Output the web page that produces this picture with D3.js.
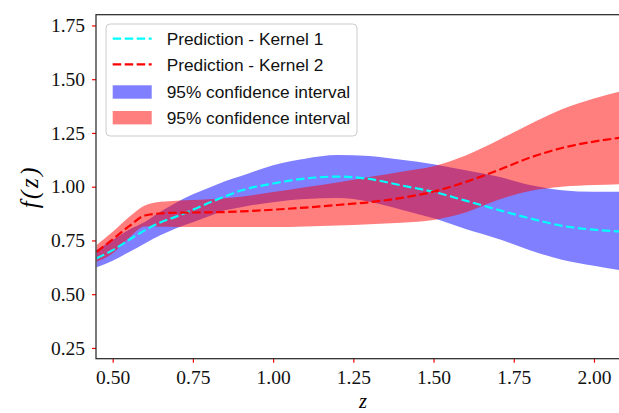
<!DOCTYPE html>
<html>
<head>
<meta charset="utf-8">
<script src="https://cdn.jsdelivr.net/npm/d3@7"></script>
<style>
  html, body { margin: 0; padding: 0; background: #fff; }
  svg { display: block; }
</style>
</head>
<body>
<svg id="chart"></svg>
<script>
const zValues = [0.45, 0.5, 0.55, 0.6, 0.65, 0.7, 0.75, 0.8, 0.85, 0.9, 1.0, 1.1, 1.2, 1.3, 1.4, 1.5, 1.6, 1.7, 1.8, 1.9, 2.0, 2.08];

const kernel1Mean  = [0.667, 0.705, 0.752, 0.797, 0.835, 0.862, 0.893, 0.925, 0.955, 0.982, 1.015, 1.038, 1.047, 1.036, 1.006, 0.976, 0.935, 0.893, 0.853, 0.818, 0.800, 0.792];
const kernel1Upper = [0.707, 0.752, 0.800, 0.836, 0.885, 0.928, 0.965, 0.995, 1.025, 1.050, 1.100, 1.130, 1.147, 1.143, 1.125, 1.105, 1.077, 1.047, 1.008, 0.984, 0.977, 0.977];
const kernel1Lower = [0.625, 0.656, 0.695, 0.736, 0.775, 0.808, 0.835, 0.862, 0.890, 0.905, 0.928, 0.943, 0.947, 0.930, 0.893, 0.853, 0.803, 0.758, 0.705, 0.660, 0.632, 0.612];

const kernel2Mean  = [0.697, 0.755, 0.815, 0.866, 0.876, 0.879, 0.880, 0.881, 0.882, 0.885, 0.893, 0.903, 0.915, 0.928, 0.948, 0.977, 1.022, 1.076, 1.135, 1.180, 1.210, 1.227];
const kernel2Upper = [0.729, 0.790, 0.858, 0.913, 0.930, 0.935, 0.938, 0.942, 0.946, 0.953, 0.975, 0.997, 1.020, 1.045, 1.070, 1.095, 1.145, 1.215, 1.290, 1.360, 1.410, 1.442];
const kernel2Lower = [0.651, 0.690, 0.760, 0.815, 0.814, 0.813, 0.812, 0.812, 0.812, 0.812, 0.812, 0.815, 0.819, 0.825, 0.832, 0.845, 0.880, 0.938, 0.980, 1.000, 1.008, 1.012];

const xTicks = [0.5, 0.75, 1.0, 1.25, 1.5, 1.75, 2.0];
const yTicks = [0.25, 0.5, 0.75, 1.0, 1.25, 1.5, 1.75];

const legendLabels = ['Prediction - Kernel 1', 'Prediction - Kernel 2', '95% confidence interval', '95% confidence interval'];

(() => {
  const svgWidth = 619;
  const svgHeight = 413;
  const margin = { top: 14.7, left: 96, right: 0, bottom: 54.3 };
  const width = svgWidth - (margin.left + margin.right);
  const height = svgHeight - (margin.top + margin.bottom);

  const serif = '"Liberation Serif", "DejaVu Serif", serif';
  const sans = '"Liberation Sans", Arial, sans-serif';

  const svg = d3.select('#chart')
    .attr('width', svgWidth)
    .attr('height', svgHeight);

  const g = svg.append('g')
    .attr('transform', `translate(${margin.left}, ${margin.top})`);

  const xScale = d3.scaleLinear()
    .domain([0.448, 2.078])
    .range([0, width]);

  const yScale = d3.scaleLinear()
    .domain([0.2, 1.8])
    .range([height, 0]);

  g.append('clipPath')
    .attr('id', 'plot-clip')
    .append('rect')
    .attr('width', width)
    .attr('height', height);

  const rows = zValues.map((z, i) => ({
    z,
    m1: kernel1Mean[i], lo1: kernel1Lower[i], hi1: kernel1Upper[i],
    m2: kernel2Mean[i], lo2: kernel2Lower[i], hi2: kernel2Upper[i]
  }));

  const band = (lo, hi) => d3.area()
    .curve(d3.curveMonotoneX)
    .x(d => xScale(d.z))
    .y0(d => yScale(d[lo]))
    .y1(d => yScale(d[hi]));

  const line = (key) => d3.line()
    .curve(d3.curveMonotoneX)
    .x(d => xScale(d.z))
    .y(d => yScale(d[key]));

  const plot = g.append('g').attr('clip-path', 'url(#plot-clip)');

  plot.append('path')
    .datum(rows)
    .attr('fill', 'blue')
    .attr('fill-opacity', 0.5)
    .attr('d', band('lo1', 'hi1'));

  plot.append('path')
    .datum(rows)
    .attr('fill', 'red')
    .attr('fill-opacity', 0.5)
    .attr('d', band('lo2', 'hi2'));

  plot.append('path')
    .datum(rows)
    .attr('fill', 'none')
    .attr('stroke', '#00ffff')
    .attr('stroke-width', 2.2)
    .attr('stroke-dasharray', '8.5,3.5')
    .attr('d', line('m1'));

  plot.append('path')
    .datum(rows)
    .attr('fill', 'none')
    .attr('stroke', 'red')
    .attr('stroke-width', 2.2)
    .attr('stroke-dasharray', '8.5,3.5')
    .attr('d', line('m2'));

  // axes: red ticks, serif labels
  const xAxis = g.append('g')
    .attr('transform', `translate(0, ${height})`)
    .call(d3.axisBottom(xScale).tickValues(xTicks).tickFormat(d3.format('.2f')).tickSize(4).tickPadding(7));

  const yAxis = g.append('g')
    .call(d3.axisLeft(yScale).tickValues(yTicks).tickFormat(d3.format('.2f')).tickSize(4).tickPadding(7));

  [xAxis, yAxis].forEach(ax => {
    ax.select('.domain').remove();
    ax.selectAll('.tick line').attr('stroke', 'red').attr('stroke-width', 1.2);
    ax.selectAll('.tick text')
      .attr('fill', '#111')
      .style('font-family', serif)
      .style('font-size', '19.5px');
  });

  // spines
  g.append('rect')
    .attr('x', 0)
    .attr('y', 0)
    .attr('width', width + 1)
    .attr('height', height)
    .attr('fill', 'none')
    .attr('stroke', '#222')
    .attr('stroke-width', 1.2);

  // axis labels
  g.append('text')
    .attr('x', xScale(1.28))
    .attr('y', height + 49.6)
    .attr('text-anchor', 'middle')
    .style('font-family', serif)
    .style('font-style', 'italic')
    .style('font-size', '20.5px')
    .text('z');

  g.append('text')
    .attr('transform', `translate(${-58}, ${yScale(1.0)}) rotate(-90)`)
    .attr('text-anchor', 'middle')
    .style('font-family', serif)
    .style('font-style', 'italic')
    .style('font-size', '25px')
    .style('letter-spacing', '2.5px')
    .text('f(z)');

  // legend
  const legend = svg.append('g')
    .attr('transform', 'translate(106, 24)');

  legend.append('rect')
    .attr('width', 251)
    .attr('height', 112)
    .attr('rx', 4)
    .attr('fill', '#fff')
    .attr('fill-opacity', 0.8)
    .attr('stroke', '#ccc')
    .attr('stroke-width', 1);

  const entries = [
    { type: 'line', color: '#00ffff' },
    { type: 'line', color: 'red' },
    { type: 'patch', color: 'blue' },
    { type: 'patch', color: 'red' }
  ];
  const rowY = [14.7, 40.3, 68, 93.7];

  entries.forEach((e, i) => {
    const item = legend.append('g').attr('transform', `translate(0, ${rowY[i]})`);
    if (e.type === 'line') {
      item.append('line')
        .attr('x1', 6.7).attr('x2', 45.7)
        .attr('stroke', e.color)
        .attr('stroke-width', 2.2)
        .attr('stroke-dasharray', '8.5,3.5');
    } else {
      item.append('rect')
        .attr('x', 6.7).attr('y', -6.7)
        .attr('width', 39).attr('height', 13.4)
        .attr('fill', e.color)
        .attr('fill-opacity', 0.5);
    }
    item.append('text')
      .attr('x', 60.7)
      .attr('dy', '0.36em')
      .attr('fill', '#111')
      .style('font-family', sans)
      .style('font-size', '17.3px')
      .text(legendLabels[i]);
  });
})();
</script>
</body>
</html>
